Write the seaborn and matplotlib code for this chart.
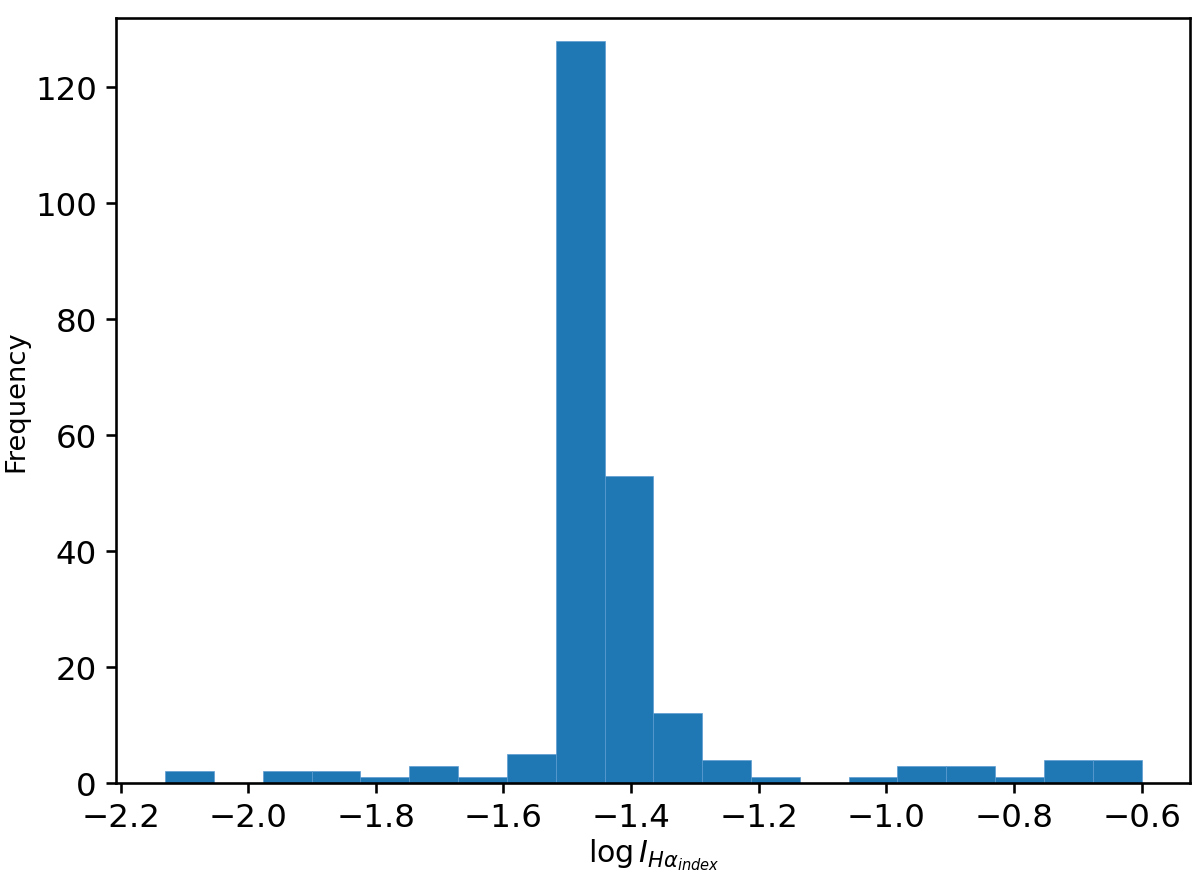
import numpy as np
import pandas as pd
import matplotlib
matplotlib.use("Agg")
import matplotlib.pyplot as plt
import seaborn as sns

# -----------------------------
# Histogram data
# -----------------------------
bin_start = -2.13
bin_end = -0.60
n_bins = 20
counts = [2, 0, 2, 2, 1, 3, 1, 5, 128, 53, 12, 4, 1, 0, 1, 3, 3, 1, 4, 4]
x_ticks = [-2.2, -2.0, -1.8, -1.6, -1.4, -1.2, -1.0, -0.8, -0.6]
y_ticks = [0, 20, 40, 60, 80, 100, 120]

edges = np.linspace(bin_start, bin_end, n_bins + 1)
centers = (edges[:-1] + edges[1:]) / 2
df = pd.DataFrame({"logI": centers, "count": counts})

sns.set_style("ticks", {"axes.edgecolor": "black", "xtick.color": "black",
                        "ytick.color": "black", "text.color": "black",
                        "axes.labelcolor": "black"})
plt.rcParams["font.family"] = ["DejaVu Sans"]

fig, ax = plt.subplots(figsize=(6.4, 4.66), dpi=187.5)
sns.histplot(data=df, x="logI", weights="count", bins=n_bins,
             binrange=(bin_start, bin_end), color="#1f77b4",
             alpha=1, edgecolor="#5a9bd0", linewidth=0.25, ax=ax)

ax.set_xlabel(r"$\log I_{H\alpha_{index}}$", fontsize=11.5, labelpad=1)
ax.set_ylabel("Frequency", fontsize=10.5, labelpad=2)
ax.set_xticks(x_ticks)
ax.set_yticks(y_ticks)
ax.tick_params(labelsize=12.5, width=1.0, length=4)
ax.margins(x=0.05)
ax.set_ylim(0, 132)
for s in ax.spines.values():
    s.set_visible(True)
    s.set_linewidth(1.0)

plt.subplots_adjust(left=0.097, right=0.992, top=0.979, bottom=0.103)
plt.savefig("out.png", dpi=187.5)
